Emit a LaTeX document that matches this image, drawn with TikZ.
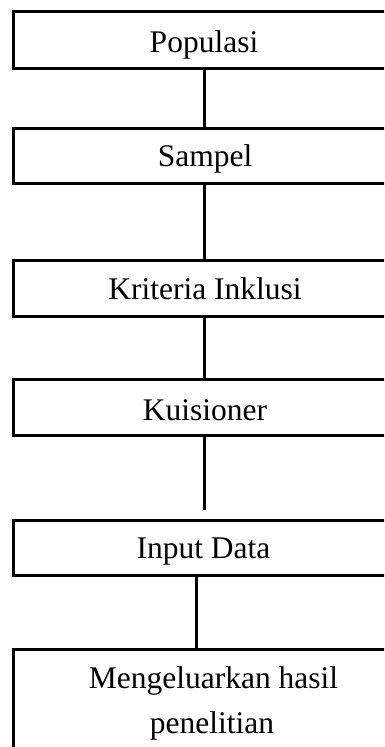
\documentclass[tikz,border=0pt]{standalone}
\usepackage{fontspec}
\setmainfont{Liberation Serif}
\begin{document}
\begin{tikzpicture}[x=1pt,y=-1pt,
  box/.style={draw=black, line width=3pt, rectangle, minimum width=382pt, inner sep=0pt, outer sep=0pt},
  conn/.style={draw=black, line width=3pt},
  txt/.style={anchor=base, inner sep=0pt, font=\fontsize{31.5}{45}\selectfont}]
\useasboundingbox (0,0) rectangle (384,747);
\clip (0,0) rectangle (384,747);
\node[box, minimum height=57pt] (b1) at (204,39.5) {};
\node[box, minimum height=55pt] (b2) at (204,155.5) {};
\node[box, minimum height=56pt] (b3) at (204,288) {};
\node[box, minimum height=56pt] (b4) at (204,407) {};
\node[box, minimum height=55pt] (b5) at (204,547.5) {};
\node[box, minimum height=120pt, minimum width=400pt] (b6) at (213,709.5) {};
\node[txt] (t1) at (204,52) {Populasi};
\node[txt] (t2) at (205,166) {Sampel};
\node[txt] (t3) at (205,299.3) {Kriteria Inklusi};
\node[txt] (t4) at (205,420) {Kuisioner};
\node[txt] (t5) at (203.5,558) {Input Data};
\node[txt] (t6a) at (213.5,688) {Mengeluarkan hasil};
\node[txt] (t6b) at (212,733) {penelitian};
\draw[conn] (b1.south) -- (b2.north);
\draw[conn] (b2.south) -- (b3.north);
\draw[conn] (b3.south) -- (b4.north);
\draw[conn, shorten >=10pt] (b4.south) -- (b5.north);
\draw[conn] ([xshift=-8pt]b5.south) -- ([xshift=-8pt]b5.south |- b6.north);
\end{tikzpicture}
\end{document}
